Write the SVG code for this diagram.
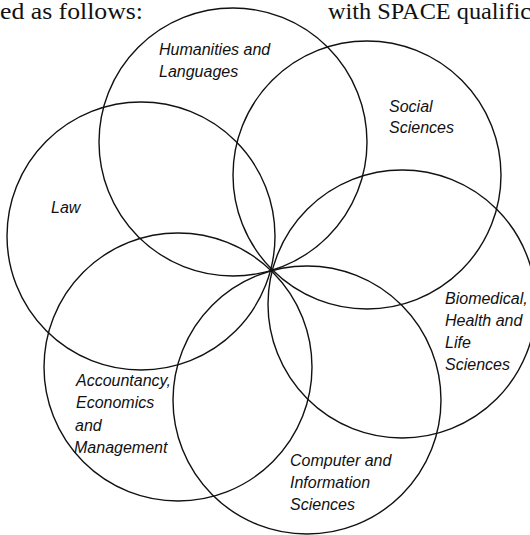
<svg xmlns="http://www.w3.org/2000/svg" width="530" height="535" viewBox="0 0 530 535">
<style>
.c{fill:none;stroke:#111;stroke-width:1.4}
.l{font-family:"Liberation Sans",Arial,sans-serif;font-style:italic;font-size:16px;fill:#111}
.h{font-family:"Liberation Serif","Times New Roman",serif;font-size:23px;fill:#111}
</style>
<rect width="530" height="535" fill="#fff"/>
<text class="h" x="0" y="19" textLength="143" lengthAdjust="spacingAndGlyphs">ed as follows:</text>
<text class="h" x="328" y="19" textLength="203" lengthAdjust="spacingAndGlyphs">with SPACE qualific</text>
<g id="humanities">
<circle class="c" cx="233" cy="142" r="134"/>
<text class="l" x="159" y="55">Humanities and</text>
<text class="l" x="159" y="77">Languages</text>
</g>
<g id="social">
<circle class="c" cx="367" cy="175" r="134"/>
<text class="l" x="389" y="112">Social</text>
<text class="l" x="389" y="133">Sciences</text>
</g>
<g id="biomedical">
<circle class="c" cx="402" cy="304" r="134"/>
<text class="l" x="445" y="304">Biomedical,</text>
<text class="l" x="445" y="326">Health and</text>
<text class="l" x="445" y="348">Life</text>
<text class="l" x="445" y="370">Sciences</text>
</g>
<g id="computer">
<circle class="c" cx="307" cy="400" r="134"/>
<text class="l" x="290" y="466">Computer and</text>
<text class="l" x="290" y="488">Information</text>
<text class="l" x="290" y="510">Sciences</text>
</g>
<g id="accountancy">
<circle class="c" cx="178" cy="367" r="134"/>
<text class="l" x="76" y="386">Accountancy,</text>
<text class="l" x="76" y="408">Economics</text>
<text class="l" x="75" y="431">and</text>
<text class="l" x="74" y="453">Management</text>
</g>
<g id="law">
<circle class="c" cx="141" cy="236" r="134"/>
<text class="l" x="51" y="213">Law</text>
</g>
<g id="connectors"/>
</svg>
